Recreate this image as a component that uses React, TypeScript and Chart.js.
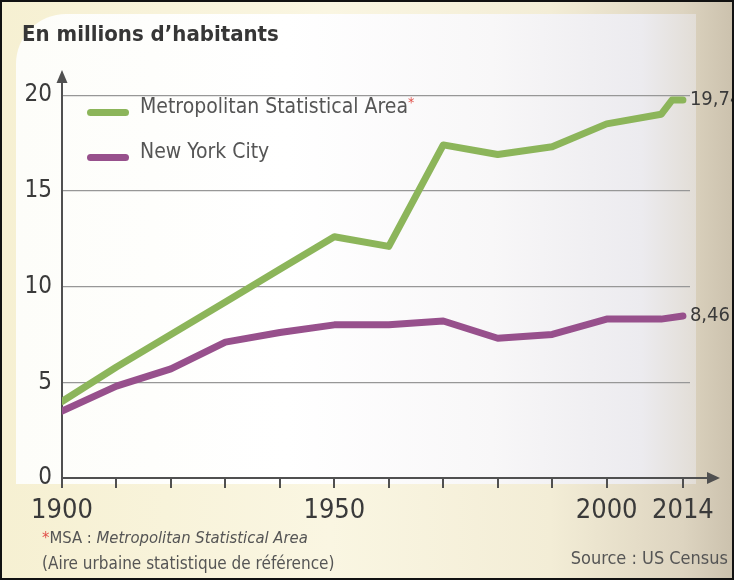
import React, { useEffect, useRef } from 'react';
import { Chart, registerables } from 'chart.js';

Chart.register(...registerables);

// ---------- data ----------
const msaYears = [1900, 1910, 1920, 1930, 1940, 1950, 1960, 1970, 1980, 1990, 2000, 2010, 2012, 2014];
const msaValues = [4.0, 5.8, 7.5, 9.2, 10.9, 12.6, 12.1, 17.4, 16.9, 17.3, 18.5, 19.0, 19.74, 19.74];
const nycYears = [1900, 1910, 1920, 1930, 1940, 1950, 1960, 1970, 1980, 1990, 2000, 2010, 2014];
const nycValues = [3.5, 4.8, 5.7, 7.1, 7.6, 8.0, 8.0, 8.2, 7.3, 7.5, 8.3, 8.3, 8.46];
const xTickValues = [1900, 1910, 1920, 1930, 1940, 1950, 1960, 1970, 1980, 1990, 2000, 2014];
const xLabeledTicks = [1900, 1950, 2000, 2014];
const yTickValues = [0, 5, 10, 15, 20];
const seriesNames = ['Metropolitan Statistical Area', 'New York City'];
const endLabels = ['19,74', '8,46'];

// ---------- styles ----------
const GREEN = '#8cb55a';
const PURPLE = '#97508c';
const AXIS = '#505050';
const GRID = '#979797';
const TEXT = '#3a3a3a';
const SOFT = '#555555';
const FONT = '"Liberation Sans Narrow", "DejaVu Sans Condensed", "Open Sans", sans-serif';

const axisArrows = {
  id: 'axisArrows',
  afterDraw(chart: any) {
    const { ctx, chartArea: a } = chart;
    ctx.save();
    ctx.strokeStyle = AXIS;
    ctx.fillStyle = AXIS;
    ctx.lineWidth = 2;
    ctx.beginPath();
    ctx.moveTo(a.right, a.bottom);
    ctx.lineTo(a.right + 22, a.bottom);
    ctx.stroke();
    ctx.beginPath();
    ctx.moveTo(a.right + 30, a.bottom);
    ctx.lineTo(a.right + 17, a.bottom - 6);
    ctx.lineTo(a.right + 17, a.bottom + 6);
    ctx.closePath();
    ctx.fill();
    ctx.beginPath();
    ctx.moveTo(a.left, a.top - 6);
    ctx.lineTo(a.left - 5.5, a.top + 7);
    ctx.lineTo(a.left + 5.5, a.top + 7);
    ctx.closePath();
    ctx.fill();
    ctx.restore();
  },
};

const endValueLabels = {
  id: 'endValueLabels',
  afterDatasetsDraw(chart: any) {
    const { ctx } = chart;
    ctx.save();
    ctx.font = `20px ${FONT}`;
    ctx.fillStyle = TEXT;
    ctx.textAlign = 'left';
    ctx.textBaseline = 'middle';
    chart.data.datasets.forEach((_: any, i: number) => {
      const meta = chart.getDatasetMeta(i);
      const last = meta.data[meta.data.length - 1];
      if (last) ctx.fillText(endLabels[i], last.x + 7, last.y);
    });
    ctx.restore();
  },
};

export default function App() {
  const canvasRef = useRef<HTMLCanvasElement | null>(null);

  useEffect(() => {
    if (!canvasRef.current) return;
    const chart = new Chart(canvasRef.current, {
      type: 'line',
      data: {
        datasets: [
          {
            label: seriesNames[0],
            data: msaYears.map((x, i) => ({ x, y: msaValues[i] })),
            borderColor: GREEN,
            borderWidth: 7,
            pointRadius: 0,
            tension: 0,
            borderJoinStyle: 'round',
            borderCapStyle: 'round',
          },
          {
            label: seriesNames[1],
            data: nycYears.map((x, i) => ({ x, y: nycValues[i] })),
            borderColor: PURPLE,
            borderWidth: 7,
            pointRadius: 0,
            tension: 0,
            borderJoinStyle: 'round',
            borderCapStyle: 'round',
          },
        ],
      },
      options: {
        animation: false,
        responsive: true,
        maintainAspectRatio: false,
        layout: { padding: { top: 76, right: 44, bottom: 42, left: 0 } },
        plugins: {
          legend: { display: false },
          tooltip: { enabled: false },
          title: { display: false },
        },
        scales: {
          x: {
            type: 'linear',
            min: 1900,
            max: 2015.3,
            afterBuildTicks: (scale: any) => {
              scale.ticks = xTickValues.map((v) => ({ value: v }));
            },
            afterFit: (scale: any) => {
              scale.height = 60;
            },
            ticks: {
              autoSkip: false,
              maxRotation: 0,
              padding: 7,
              color: TEXT,
              font: { family: FONT, size: 27 },
              callback: (value: any) => (xLabeledTicks.includes(Number(value)) ? String(value) : ''),
            },
            grid: {
              drawOnChartArea: false,
              drawTicks: true,
              tickLength: 10,
              color: AXIS,
              lineWidth: 2,
            },
            border: { display: true, color: AXIS, width: 2 },
          },
          y: {
            type: 'linear',
            min: 0,
            max: 21,
            afterBuildTicks: (scale: any) => {
              scale.ticks = yTickValues.map((v) => ({ value: v }));
            },
            afterFit: (scale: any) => {
              scale.width = 62;
            },
            ticks: {
              padding: 10,
              color: TEXT,
              font: { family: FONT, size: 24 },
            },
            grid: {
              drawTicks: false,
              color: GRID,
              lineWidth: 1.2,
            },
            border: { display: true, color: AXIS, width: 2 },
          },
        },
      },
      plugins: [axisArrows, endValueLabels],
    } as any);
    return () => chart.destroy();
  }, []);

  const abs = (s: React.CSSProperties): React.CSSProperties => ({ position: 'absolute', ...s });

  return (
    <div
      style={{
        position: 'absolute',
        left: 0,
        top: 0,
        width: 734,
        height: 580,
        overflow: 'hidden',
        fontFamily: FONT,
        background: 'linear-gradient(90deg, #f6f0d2 0%, #faf6e2 45%, #f3edd6 75%, #ddd4c0 93%, #cbc1ad 100%)',
      }}
    >
      <div
        style={abs({
          left: 16,
          top: 14,
          width: 680,
          height: 470,
          borderTopLeftRadius: 50,
          background: 'linear-gradient(90deg, #fdfdf9 0%, #ffffff 40%, #f8f7f8 70%, #ecebef 92%, #e2ddd6 100%)',
        })}
      />
      <div style={abs({ left: 0, top: 0, width: 734, height: 580 })}>
        <canvas ref={canvasRef} />
      </div>

      <div style={abs({ left: 22, top: 21, fontSize: 22, fontWeight: 'bold', color: '#363636', whiteSpace: 'nowrap' })}>
        En millions d’habitants
      </div>

      <div style={abs({ left: 87, top: 109, width: 42, height: 7, borderRadius: 4, background: GREEN })} />
      <div style={abs({ left: 140, top: 94, fontSize: 21, color: SOFT, whiteSpace: 'nowrap' })}>
        {seriesNames[0]}
        <span style={{ color: '#e0504a', fontSize: 14, verticalAlign: 'top' }}>*</span>
      </div>
      <div style={abs({ left: 87, top: 154, width: 42, height: 7, borderRadius: 4, background: PURPLE })} />
      <div style={abs({ left: 140, top: 139, fontSize: 21, color: SOFT, whiteSpace: 'nowrap' })}>
        {seriesNames[1]}
      </div>

      <div style={abs({ left: 42, top: 528, fontSize: 16.5, color: SOFT, whiteSpace: 'nowrap' })}>
        <span style={{ color: '#e0504a' }}>*</span>MSA : <i>Metropolitan Statistical Area</i>
      </div>
      <div style={abs({ left: 42, top: 553, fontSize: 17, color: SOFT, whiteSpace: 'nowrap' })}>
        (Aire urbaine statistique de référence)
      </div>
      <div style={abs({ right: 6, top: 547, fontSize: 18, color: SOFT, whiteSpace: 'nowrap' })}>
        Source : US Census
      </div>

      <div
        style={abs({
          left: 0,
          top: 0,
          width: 734,
          height: 580,
          boxSizing: 'border-box',
          border: '2px solid #111',
          pointerEvents: 'none',
        })}
      />
    </div>
  );
}
